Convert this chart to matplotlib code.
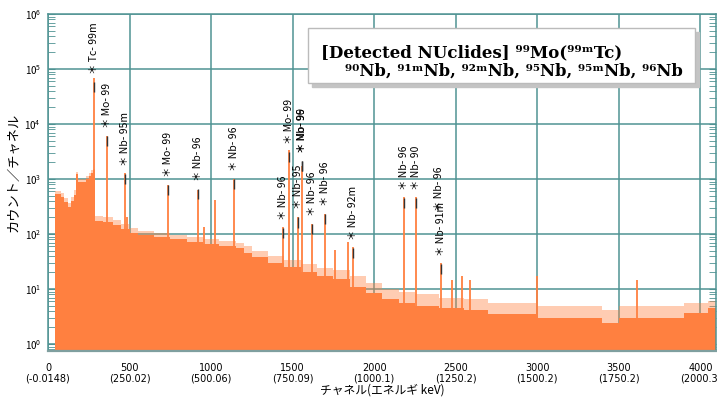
import numpy as np
import matplotlib.pyplot as plt
from matplotlib.patches import Rectangle

plt.rcParams['font.family'] = ['Noto Sans CJK JP', 'DejaVu Sans']

# continuum (channel bin starts, lower / upper envelope counts)
cont_start = [43, 80, 100, 120, 140, 160, 172, 185, 232, 250, 265, 278, 290, 340,
              400, 450, 500, 550, 650, 750, 850, 950, 1050, 1150, 1200, 1250, 1350,
              1450, 1550, 1650, 1750, 1850, 1950, 2050, 2150, 2250, 2400, 2550, 2700,
              3000, 3400, 3500, 3900, 4050]
cont_lo = [540, 480, 380, 310, 400, 520, 1250, 900, 1000, 1150, 1300, 1450, 170, 165,
           145, 125, 105, 95, 87, 80, 72, 66, 61, 55, 46, 38, 30,
           25, 20, 17, 15, 11, 8.5, 6.5, 5.6, 5.0, 4.5, 4.1, 3.5,
           3.0, 2.4, 3.0, 3.7, 4.6]
cont_hi = [600, 560, 450, 370, 470, 620, 1350, 1000, 1150, 1300, 1450, 1550, 210, 200,
           180, 155, 130, 115, 105, 96, 88, 80, 75, 69, 60, 50, 40,
           34, 28, 24, 22, 17, 13, 10, 9, 8, 7, 6.5, 5.5,
           5, 4.2, 5, 5.5, 6]
last_ch = 4096

# peaks
peak_ch = [281, 362, 471, 483, 733, 920, 957, 1022, 1138, 1439, 1479, 1531, 1556,
           1620, 1700, 1761, 1841, 1869, 2182, 2258, 2409, 2479, 2540, 2589, 2998, 3613]
peak_top = [70000, 6000, 1290, 205, 780, 630, 134, 420, 1000, 134, 3380, 204, 1700,
            150, 230, 51, 72, 58, 470, 470, 30, 14.6, 17, 14.6, 17, 14.6]

# nuclide labels
label_ch = [281, 362, 471, 733, 920, 1138, 1439, 1479, 1531, 1556, 1556, 1620, 1700,
            1869, 2182, 2258, 2409, 2400]
label_text = ['＊ Tc- 99m', '＊ Mo- 99', '＊ Nb- 95m', '＊ Mo- 99', '＊ Nb- 96', '＊ Nb- 96',
              '＊ Nb- 96', '＊ Mo- 99', '＊ Nb- 95', '＊ Mo- 99', '＊ Nb- 96', '＊ Nb- 96',
              '＊ Nb- 96', '＊ Nb- 92m', '＊ Nb- 96', '＊ Nb- 90', '＊ Nb- 91m', '＊ Nb- 96']
label_base = [81000, 8450, 1720, 1090, 920, 1400, 180, 4330, 280, 3000, 3000, 212, 323,
              78, 630, 630, 40, 262]
label_mark = [True] * 17 + [False]

xtick_ch = [0, 500, 1000, 1500, 2000, 2500, 3000, 3500, 4000]
xtick_kev = ['-0.0148', '250.02', '500.06', '750.09', '1000.1', '1250.2', '1500.2',
             '1750.2', '2000.3']

orange = '#ff8040'
teal = '#4f9393'
ymin = 0.755

fig = plt.figure(figsize=(7.17, 4.03), dpi=100)
ax = fig.add_axes([48 / 717, 1 - 350.7 / 403, (716 - 48) / 717, (350.7 - 14) / 403])
ax.set_yscale('log')

edges = np.append(cont_start, last_ch)
ax.fill_between(edges, np.append(cont_hi, cont_hi[-1]), ymin, step='post',
                color=orange, alpha=0.4, lw=0)
ax.fill_between(edges, np.append(cont_lo, cont_lo[-1]), ymin, step='post',
                color=orange, lw=0)
ax.vlines(peak_ch, ymin, peak_top, color=orange, lw=1.3)

for ch, txt, base, mark in zip(label_ch, label_text, label_base, label_mark):
    ax.text(ch, base, txt, rotation=90, ha='center', va='bottom', fontsize=7.5)
    if mark:
        ax.vlines(ch, base / 2.15, base / 1.4, color='#333333', lw=1)

ax.set_xlim(0, 4096)
ax.set_ylim(ymin, 1e6)
ax.set_axisbelow(True)
ax.grid(which='major', color=teal, lw=1.1)

ax.set_xticks(xtick_ch, [f'{c}\n({e})' for c, e in zip(xtick_ch, xtick_kev)],
              fontsize=7, linespacing=1.0, family='DejaVu Sans')
ax.tick_params(axis='x', length=0, pad=9)
ax.tick_params(axis='y', which='both', direction='in', length=5, color=teal,
               left=True, right=True, labelsize=7, pad=5)

for s in ax.spines.values():
    s.set_color(teal)
    s.set_linewidth(1.1)
ax.spines['bottom'].set_color('#7f9f9f')
ax.spines['bottom'].set_linewidth(1.6)

ax.set_xlabel('チャネル(エネルギ keV)', fontsize=8.5, labelpad=0)
fig.text(14 / 717, 1 - 172 / 403, 'カウント／チャネル', rotation=90, ha='center',
         va='center', fontsize=9.5)

# nuclide box
fig.patches.append(Rectangle((312 / 717, 1 - 87 / 403), 387 / 717, 55 / 403,
                             transform=fig.transFigure, color='#c4c4c4', zorder=5))
fig.patches.append(Rectangle((308 / 717, 1 - 83 / 403), 387 / 717, 55 / 403,
                             transform=fig.transFigure, facecolor='white',
                             edgecolor='#bbbbbb', lw=1, zorder=6))
box_font = ['DejaVu Serif', 'DejaVu Sans']
fig.text(321 / 717, 1 - 57 / 403, '[Detected NUclides] ⁹⁹Mo(⁹⁹ᵐTc)',
         family=box_font, weight='bold', fontsize=12, va='baseline', zorder=7)
fig.text(345 / 717, 1 - 76 / 403, '⁹⁰Nb, ⁹¹ᵐNb, ⁹²ᵐNb, ⁹⁵Nb, ⁹⁵ᵐNb, ⁹⁶Nb',
         family=box_font, weight='bold', fontsize=11.8, va='baseline', zorder=7)

fig.savefig('out.png', dpi=100)
